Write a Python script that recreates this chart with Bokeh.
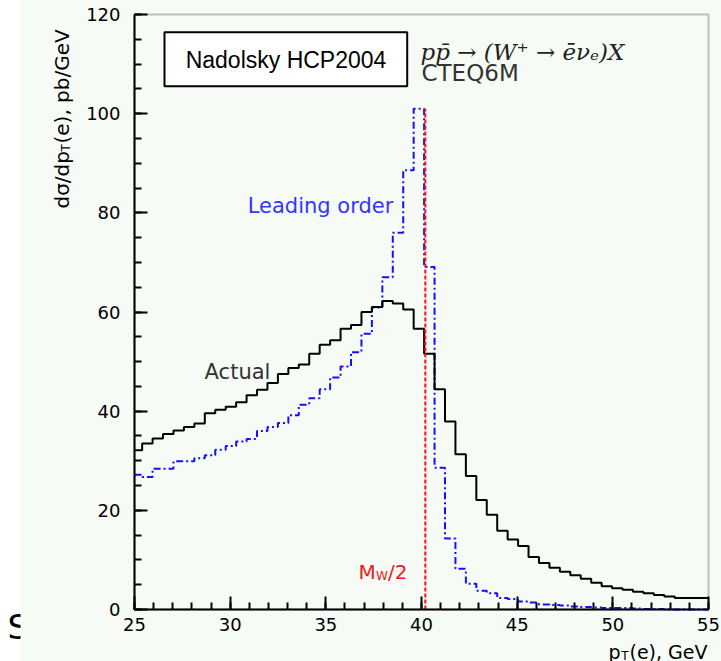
import numpy as np
from bokeh.plotting import figure
from bokeh.models import Label, BoxAnnotation, FixedTicker, LinearAxis
from bokeh.embed import file_html
from bokeh.resources import INLINE

# ---------------- data ----------------
bin_start = 24.854      # lower edge of first bin, GeV
bin_width = 0.5458      # GeV
actual = [32.1, 33.5, 34.5, 35.4, 36.1, 36.8, 37.5, 39.6, 40.3, 40.9,
          41.8, 43.2, 44.3, 45.7, 47.5, 48.7, 49.4, 51.6, 53.4, 54.3,
          56.6, 57.4, 60.0, 61.0, 62.2, 61.7, 60.5, 56.6, 51.6, 44.4,
          37.9, 31.3, 26.9, 22.1, 19.1, 15.9, 14.1, 12.8, 10.6, 9.4,
          8.4, 7.6, 6.9, 6.2, 5.4, 4.7, 4.3, 4.0, 3.6, 3.3,
          2.9, 2.6, 2.3, 2.3, 2.3, 2.3]
leading_order = [27.2, 26.7, 28.4, 28.4, 29.9, 29.9, 30.5, 31.1, 32.2, 33.0,
                 33.9, 34.4, 36.0, 36.8, 37.6, 39.2, 41.3, 42.6, 44.4, 46.8,
                 49.0, 51.9, 55.6, 60.9, 67.0, 76.0, 88.6, 101.0, 69.1, 28.6,
                 14.3, 8.2, 5.2, 3.8, 3.3, 2.3, 2.1, 1.6, 1.4, 1.0,
                 0.9, 0.8, 0.6, 0.5, 0.4, 0.3, 0.3, 0.3, 0.2, 0.1,
                 0.1, 0.0, 0.0, 0.0, 0.0, 0.0]
mw_half = 40.2          # M_W / 2, GeV
x_lim = (25, 55)
y_lim = (0, 120)
x_ticks = [25, 30, 35, 40, 45, 50, 55]
x_minor = list(range(25, 56))
y_ticks = [0, 20, 40, 60, 80, 100, 120]
y_minor = list(range(0, 121, 5))

# histogram edges, clipped to the displayed x window
edges = np.clip(bin_start + bin_width * np.arange(len(actual) + 1), *x_lim)

# ---------------- layout: the frame fills the canvas; axes are fixed inside ----------------
W, H = 721, 661
FL, FR, FT, FB = 134, 708, 14, 609          # pixel box of the plotting area
sx = (x_lim[1] - x_lim[0]) / (FR - FL)
sy = (y_lim[1] - y_lim[0]) / (FB - FT)
xr = (x_lim[0] - FL * sx, x_lim[1] + (W - FR) * sx)
yr = (y_lim[0] - (H - FB) * sy, y_lim[1] + FT * sy)

def X(px):
    return x_lim[0] + (px - FL) * sx
def Y(py):
    return y_lim[0] + (FB - py) * sy

BG = "#f7fbf5"

p = figure(width=W, height=H, x_range=xr, y_range=yr,
           x_axis_type=None, y_axis_type=None,
           output_backend="svg", toolbar_location=None, min_border=0)
p.background_fill_color = BG
p.border_fill_color = BG
p.outline_line_color = None
p.xgrid.visible = False
p.ygrid.visible = False

# white strip at the far left (slide background)
p.add_layout(BoxAnnotation(left=X(-5), right=X(20), top=Y(-5), bottom=Y(H + 5),
                           fill_color="white", fill_alpha=1.0, line_color=None,
                           level="underlay"))
# top / right frame lines
p.add_layout(BoxAnnotation(left=x_lim[0], right=x_lim[1], bottom=y_lim[0], top=y_lim[1],
                           fill_alpha=0.0, line_color="#333333", line_width=2,
                           level="underlay"))

# ---------------- histograms ----------------
p.step(x=edges, y=leading_order + [leading_order[-1]], mode="after",
       line_color="#1010ff", line_width=2, line_dash="7 3 2 3")
p.step(x=edges, y=actual + [actual[-1]], mode="after",
       line_color="black", line_width=2)
p.line(x=[mw_half, mw_half], y=[y_lim[0], max(leading_order)],
       line_color="#ff1010", line_width=2, line_dash="4 2")

# ---------------- axes (fixed inside the full-canvas frame, ticks pointing in) ----------------
xaxis = LinearAxis(fixed_location=y_lim[0], bounds=x_lim)
yaxis = LinearAxis(fixed_location=x_lim[0], bounds=y_lim)
for ax, ticks, minor, standoff in ((xaxis, x_ticks, x_minor, 8),
                                   (yaxis, y_ticks, y_minor, 14)):
    ax.ticker = FixedTicker(ticks=ticks, minor_ticks=minor)
    ax.axis_line_color = "black"
    ax.axis_line_width = 2
    ax.major_tick_in = 13
    ax.major_tick_out = 0
    ax.minor_tick_in = 7
    ax.minor_tick_out = 0
    ax.major_tick_line_color = "black"
    ax.minor_tick_line_color = "black"
    ax.major_tick_line_width = 2
    ax.minor_tick_line_width = 2
    ax.major_label_text_font = "DejaVu Sans"
    ax.major_label_text_font_size = "18px"
    ax.major_label_text_color = "black"
    ax.major_label_standoff = standoff
p.add_layout(xaxis, "below")
p.add_layout(yaxis, "left")

# ---------------- annotations ----------------
def lab(px, py, text, size, color="black", font="DejaVu Sans", align="left",
        baseline="alphabetic", style="normal", angle=0.0):
    p.add_layout(Label(x=X(px), y=Y(py), text=text, text_font=font,
                       text_font_size=f"{size}px", text_color=color,
                       text_align=align, text_baseline=baseline,
                       text_font_style=style, angle=angle))

lab(320, 205, "Leading order", 21, color="#3535ff", align="center")
lab(237, 371, "Actual", 21, color="#333333", align="center")

# M_W/2
lab(358, 571, "M", 20, color="#f01818")
lab(375.5, 575, "W", 12, color="#f01818")
lab(387.5, 571, "/2", 20, color="#f01818")

# Box with author text
p.add_layout(BoxAnnotation(left=X(164), right=X(406.7), top=Y(31.7), bottom=Y(85.7),
                           fill_color="white", fill_alpha=1.0,
                           line_color="black", line_width=2, line_alpha=1.0))
lab(285.5, 59, "Nadolsky HCP2004", 23, font="Liberation Sans", align="center",
    baseline="middle")

lab(420, 51, "pp\u0304 \u2192 (W\u207a \u2192 e\u0304\u03bd\u2091)X", 23, color="#222222",
    font="DejaVu Serif", style="italic")
lab(421, 72, "CTEQ6M", 23, color="#333333")

# y-axis title (rotated)
lab(61, 208, "d\u03c3/dp", 20, angle=np.pi / 2)
lab(65, 151, "T", 12, angle=np.pi / 2)
lab(61, 143, "(e), pb/GeV", 20, angle=np.pi / 2)

# x-axis title
lab(707, 651, "(e), GeV", 19, align="right")
lab(628, 655, "T", 12, align="right")
lab(620, 651, "p", 19, align="right")

# stray slide letter at the left edge, cut by the picture's border
lab(7, 626, "S", 34)
p.add_layout(BoxAnnotation(left=X(20), right=X(34), top=Y(592), bottom=Y(640),
                           fill_color=BG, fill_alpha=1.0, line_color=None))

open("out.html", "w").write(file_html(p, INLINE))
